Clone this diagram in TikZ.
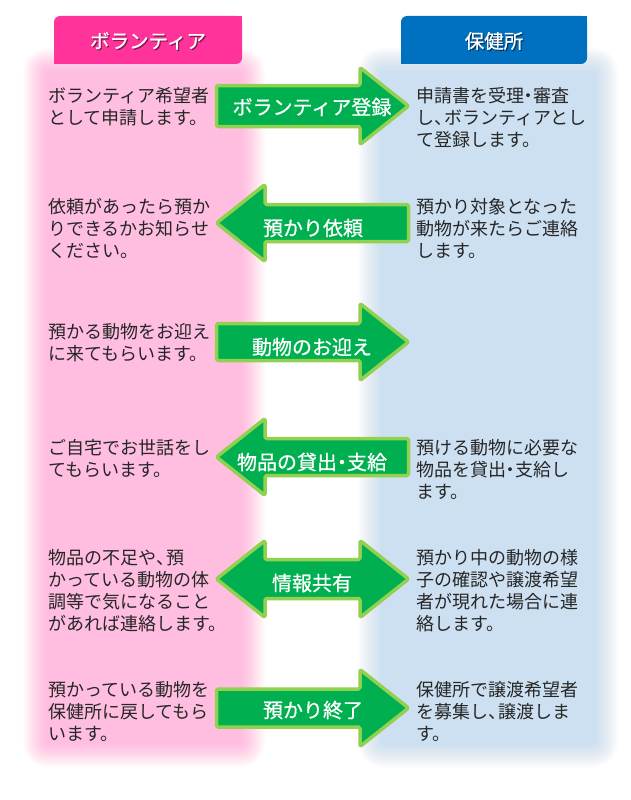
\documentclass[tikz,border=0pt]{standalone}
\usepackage{fontspec}
\setmainfont{Noto Sans CJK JP}
\newfontfamily\jpheavy{Noto Sans CJK JP}[FakeBold=0.7]
\definecolor{colpink}{HTML}{FFBEE0}
\definecolor{colblue}{HTML}{CDE0F1}
\definecolor{hdrpink}{HTML}{FF3399}
\definecolor{hdrblue}{HTML}{0070C0}
\definecolor{agreen}{HTML}{00B050}
\definecolor{alight}{HTML}{92D050}
\definecolor{bodytxt}{HTML}{262626}
\newcommand\jten{\makebox[0.55em][l]{、}}
\newcommand\jnaka{\makebox[0.5em][c]{・}}
\newcommand\softcol[5]{%
  \foreach \k [evaluate=\k as \op using 1/(\k+1)] in {24,...,1}{%
    \fill[#1, opacity=\op, rounded corners=\k pt] (#2-\k,#3-\k) rectangle (#4+\k,#5+\k);
  }%
  \fill[#1] (#2,#3) rectangle (#4,#5);
}
\newcommand\rarrow[2]{% cy, shaft half
  \draw[garrow] (216.5,#1-#2) -- (360,#1-#2) -- (360,#1-38.5) -- (408.5,#1) -- (360,#1+38.5) -- (360,#1+#2) -- (216.5,#1+#2) -- cycle;
}
\newcommand\larrow[2]{% cy, shaft half
  \draw[garrow] (408.5,#1-#2) -- (265,#1-#2) -- (265,#1-38.5) -- (216.5,#1) -- (265,#1+38.5) -- (265,#1+#2) -- (408.5,#1+#2) -- cycle;
}
\newcommand\darrow[2]{% cy, shaft half
  \draw[garrow] (216.5,#1) -- (265,#1-38.5) -- (265,#1-#2) -- (360,#1-#2) -- (360,#1-38.5) -- (408.5,#1) -- (360,#1+38.5) -- (360,#1+#2) -- (265,#1+#2) -- (265,#1+38.5) -- cycle;
}
\tikzset{
  garrow/.style={fill=agreen, draw=alight, line width=3.5pt, line join=round, rounded corners=1.5pt},
  arrowtext/.style={text=white, inner sep=0pt, font=\jpheavy\fontsize{20pt}{24pt}\selectfont},
  bodytext/.style={anchor=north west, inner sep=0pt, align=left, text=bodytxt, font=\fontsize{18pt}{22pt}\selectfont},
  hdrtext/.style={text=white, inner sep=0pt, font=\jpheavy\fontsize{19.5pt}{23pt}\selectfont},
  hdrshadow/.style={text=black, opacity=0.45, inner sep=0pt, font=\jpheavy\fontsize{19.5pt}{23pt}\selectfont}
}
\begin{document}
\begin{tikzpicture}[x=1pt,y=-1pt]
\useasboundingbox (0,0) rectangle (630,800);
\fill[white] (0,0) rectangle (630,800);
% columns
\softcol{colpink}{47}{72}{241}{743}
\softcol{colblue}{382}{72}{594}{743}
% headers
\fill[hdrpink, rounded corners=6pt] (54,16) rectangle (242,64);
\fill[hdrpink] (54,50) rectangle (70,64);
\fill[hdrpink] (226,16) rectangle (242,30);
\fill[hdrblue, rounded corners=6pt] (401,16) rectangle (587,64);
\fill[hdrblue] (401,50) rectangle (417,64);
\fill[hdrblue] (571,16) rectangle (587,30);
\node[hdrshadow] (hvs) at (149.2,42.2) {ボランティア};
\node[hdrtext] (hv) at (148,41) {ボランティア};
\node[hdrshadow] (hhs) at (495.2,42.2) {保健所};
\node[hdrtext] (hh) at (494,41) {保健所};
% arrows
\rarrow{106}{20.5}
\node[arrowtext] (a1) at (312,107) {ボランティア登録};
\larrow{223}{18.5}
\node[arrowtext] (a2) at (313,228) {預かり依頼};
\rarrow{342}{18.5}
\node[arrowtext] (a3) at (312,347) {動物のお迎え};
\larrow{457}{18.5}
\node[arrowtext] (a4) at (312,462) {物品の貸出\jnaka 支給};
\darrow{579}{19.5}
\node[arrowtext] (a5) at (312,583) {情報共有};
\rarrow{708}{19}
\node[arrowtext] (a6) at (313,710) {預かり終了};
% left texts
\node[bodytext] (l1) at (48,87) {ボランティア希望者\\として申請します。};
\node[bodytext] (l2) at (48,198) {依頼があったら預か\\りできるかお知らせ\\ください。};
\node[bodytext] (l3) at (48,323) {預かる動物をお迎え\\に来てもらいます。};
\node[bodytext] (l4) at (48,439) {ご自宅でお世話をし\\てもらいます。};
\node[bodytext] (l5) at (48,549) {物品の不足や\jten 預\\かっている動物の体\\調等で気になること\\があれば連絡します。};
\node[bodytext] (l6) at (48,681) {預かっている動物を\\保健所に戻してもら\\います。};
% right texts
\node[bodytext] (r1) at (416,87) {申請書を受理\jnaka 審査\\し\jten ボランティアとし\\て登録します。};
\node[bodytext] (r2) at (416,198) {預かり対象となった\\動物が来たらご連絡\\します。};
\node[bodytext] (r4) at (416,439) {預ける動物に必要な\\物品を貸出\jnaka 支給し\\ます。};
\node[bodytext] (r5) at (416,549) {預かり中の動物の様\\子の確認や譲渡希望\\者が現れた場合に連\\絡します。};
\node[bodytext] (r6) at (416,681) {保健所で譲渡希望者\\を募集し\jten 譲渡しま\\す。};
\end{tikzpicture}
\end{document}
